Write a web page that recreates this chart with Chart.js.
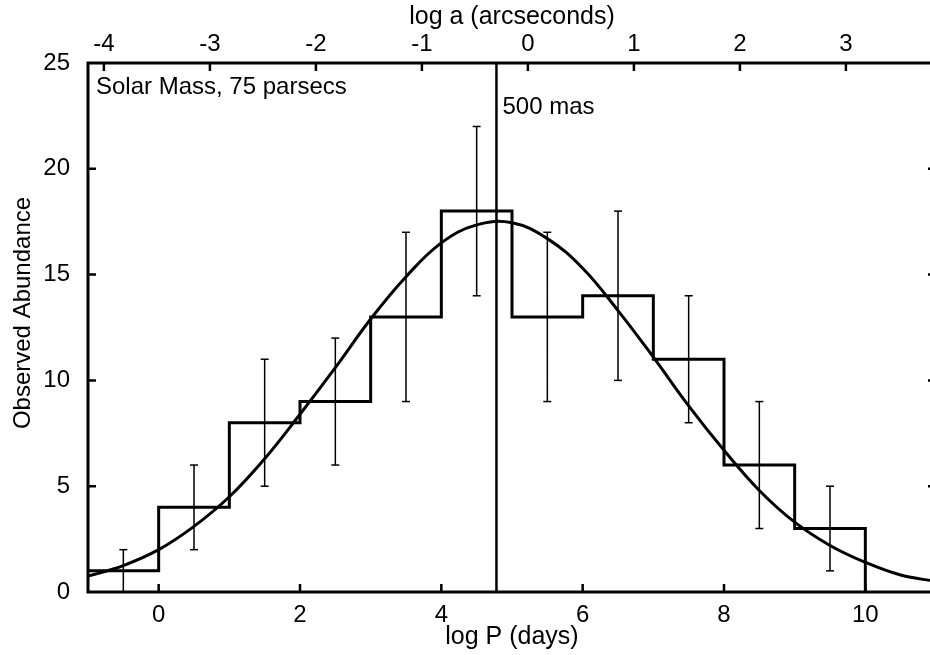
<!DOCTYPE html>
<html>
<head>
<meta charset="utf-8">
<script src="https://cdn.jsdelivr.net/npm/chart.js@4.4.1/dist/chart.umd.min.js"></script>
<style>
  html, body { margin: 0; padding: 0; background: #fff; overflow: hidden; }
  canvas { display: block; }
</style>
</head>
<body>
<canvas id="chart" width="945" height="655"></canvas>
<script>
// histogram (log P bins, width 1)
const binEdges  = [-1, 0, 1, 2, 3, 4, 5, 6, 7, 8, 9, 10];
const binCounts = [1, 4, 8, 9, 13, 18, 13, 14, 11, 6, 3, 0];

// error bars at bin centres
const binCenters = [-0.5, 0.5, 1.5, 2.5, 3.5, 4.5, 5.5, 6.5, 7.5, 8.5, 9.5];
const errLow  = [0, 2, 5, 6, 9, 14, 9, 10, 8, 3, 1];
const errHigh = [2, 6, 11, 12, 17, 22, 17, 18, 14, 9, 5];

// fitted curve
const curveX = [-1, -0.5, 0, 0.5, 1, 1.5, 2, 2.5, 3, 3.5, 4, 4.5, 5, 5.5, 6, 6.5, 7, 7.5, 8, 8.5, 9, 9.5, 10, 10.5, 11];
const curveY = [0.75, 1.25, 2.0, 3.1, 4.5, 6.3, 8.4, 10.6, 12.9, 14.9, 16.5, 17.35, 17.45, 16.7, 15.3, 13.3, 11.1, 8.8, 6.7, 4.8, 3.3, 2.2, 1.4, 0.8, 0.5];

// 500 mas limit
const limitLogP = 4.78;
const limitLabel = "500 mas";
const panelLabel = "Solar Mass, 75 parsecs";
const yTitle = "Observed Abundance";

// axes
const xTicks = [0, 2, 4, 6, 8, 10];
const topTicks = [-4, -3, -2, -1, 0, 1, 2, 3];
const yTicks = [0, 5, 10, 15, 20, 25];
const xRange = [-1, 11];
const topRange = [-4.15, 3.85];
const yRange = [0, 25];

const FONT = '"Liberation Sans", Arial, Helvetica, sans-serif';

const histData = binEdges.map((e, i) => ({ x: e, y: binCounts[i] }));
const errData = [];
binCenters.forEach((c, i) => {
  errData.push({ x: c, y: errLow[i] }, { x: c, y: errHigh[i] }, { x: c, y: null });
});
const curveData = curveX.map((x, i) => ({ x: x, y: curveY[i] }));
const limitData = [{ x: limitLogP, y: yRange[0] }, { x: limitLogP, y: yRange[1] }];

// frame, inward ticks, y title and the two labels
const framePlugin = {
  id: 'frame',
  afterDatasetsDraw(chart) {
    const { ctx, chartArea: a, scales } = chart;
    const t = 8;
    ctx.save();
    ctx.strokeStyle = '#000';
    ctx.lineWidth = 2.5;
    ctx.beginPath();
    xTicks.forEach(v => {
      const p = scales.x.getPixelForValue(v);
      ctx.moveTo(p, a.bottom); ctx.lineTo(p, a.bottom - t);
    });
    topTicks.forEach(v => {
      const p = scales.x2.getPixelForValue(v);
      ctx.moveTo(p, a.top); ctx.lineTo(p, a.top + t);
    });
    yTicks.slice(1, -1).forEach(v => {
      const p = scales.y.getPixelForValue(v);
      ctx.moveTo(a.left, p); ctx.lineTo(a.left + t, p);
      ctx.moveTo(a.right, p); ctx.lineTo(a.right - t, p);
    });
    ctx.stroke();
    ctx.lineWidth = 3;
    ctx.strokeRect(a.left, a.top, a.right - a.left, a.bottom - a.top);

    ctx.fillStyle = '#000';
    ctx.font = '24px ' + FONT;
    ctx.textBaseline = 'middle';
    ctx.fillText(panelLabel, a.left + 8, a.top + 24);
    ctx.fillText(limitLabel, scales.x.getPixelForValue(limitLogP) + 6, a.top + 44);

    // y title sits a bit above the plot centre in the original
    ctx.translate(23, 313);
    ctx.rotate(-Math.PI / 2);
    ctx.textAlign = 'center';
    ctx.fillText(yTitle, 0, 0);
    ctx.restore();
  }
};

new Chart(document.getElementById('chart'), {
  type: 'scatter',
  data: {
    datasets: [
      {
        data: curveData, showLine: true, borderColor: '#000', borderWidth: 3,
        pointRadius: 0, tension: 0.4, fill: false
      },
      {
        data: histData, showLine: true, stepped: true, borderColor: '#000', borderWidth: 3,
        pointRadius: 0, fill: false
      },
      {
        data: errData, showLine: true, spanGaps: false, borderColor: '#000', borderWidth: 1.5,
        pointStyle: 'line', pointRadius: 4, pointBorderWidth: 1.5, pointBorderColor: '#000'
      },
      {
        data: limitData, showLine: true, borderColor: '#000', borderWidth: 2.5, pointRadius: 0
      }
    ]
  },
  options: {
    responsive: false,
    animation: false,
    events: [],
    layout: { padding: { right: 9 } },
    plugins: { legend: { display: false }, tooltip: { enabled: false } },
    scales: {
      x: {
        type: 'linear', position: 'bottom', min: xRange[0], max: xRange[1],
        afterBuildTicks: s => { s.ticks = xTicks.map(v => ({ value: v })); },
        afterFit: s => { s.height = 63; },
        grid: { display: false }, border: { display: false },
        ticks: { color: '#000', padding: 1, font: { family: FONT, size: 24 }, maxRotation: 0 },
        title: { display: true, text: 'log P (days)', color: '#000', font: { family: FONT, size: 25 }, padding: { top: 0, bottom: 3 } }
      },
      x2: {
        type: 'linear', position: 'top', min: topRange[0], max: topRange[1],
        afterBuildTicks: s => { s.ticks = topTicks.map(v => ({ value: v })); },
        afterFit: s => { s.height = 63; },
        grid: { display: false }, border: { display: false },
        ticks: { color: '#000', padding: -4, font: { family: FONT, size: 24 }, maxRotation: 0 },
        title: { display: true, text: 'log a (arcseconds)', color: '#000', font: { family: FONT, size: 25 }, padding: { top: 2, bottom: 0 } }
      },
      y: {
        type: 'linear', position: 'left', min: yRange[0], max: yRange[1],
        afterBuildTicks: s => { s.ticks = yTicks.map(v => ({ value: v })); },
        afterFit: s => { s.width = 88; },
        grid: { display: false }, border: { display: false },
        ticks: { color: '#000', padding: 10, font: { family: FONT, size: 24 } },
        title: { display: false }
      }
    }
  },
  plugins: [framePlugin]
});
</script>
</body>
</html>
